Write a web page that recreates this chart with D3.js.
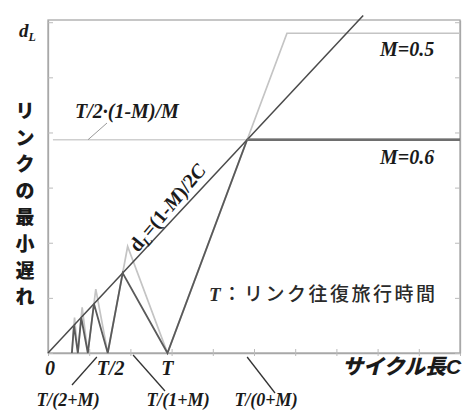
<!DOCTYPE html>
<html>
<head>
<meta charset="utf-8">
<script src="https://cdn.jsdelivr.net/npm/d3@7"></script>
<style>
  html, body { margin: 0; padding: 0; background: #fff; }
  svg { display: block; }
  .serif { font-family: "Liberation Serif", "DejaVu Serif", serif; font-weight: bold; font-style: italic; }
  .jp { font-family: "Noto Sans CJK JP", sans-serif; }
</style>
</head>
<body>
<svg id="chart" width="466" height="410"></svg>
<script>
// Round-trip time T on the cycle-length axis (axis runs 0..10)
const T = 2.9;

// Axis tick positions (cycle length C, minimum delay d_L)
const xTickValues = [0, 1, 2, 3, 4, 5, 6, 7, 8, 9, 10];
const yTickValues = [0, 0.25, 0.5, 0.75, 1.0, 1.25, 1.5];

// M = 0.6 : vertices of the minimum-delay curve (dark)
const cycleM06 = [0.58, 0.630, 0.725, 0.806, 0.967, 1.115, 1.45, 1.8125, 2.9, 4.833, 10];
const delayM06 = [0,    0.126, 0,     0.161, 0,     0.223, 0,    0.3625, 0,   0.967, 0.967];

// M = 0.5 : vertices of the minimum-delay curve (light)
const cycleM05 = [0.58, 0.644, 0.725, 0.829, 0.967, 1.16, 1.45, 1.933, 2.9, 5.8,  10];
const delayM05 = [0,    0.161, 0,     0.207, 0,     0.29, 0,    0.483, 0,   1.45, 1.45];

// Envelope d_L = (1-M)/2·C for M = 0.6
const envelopeC = [0, 7.65];
const envelopeD = [0, 1.53];

// Reference level T/2·(1-M)/M (M = 0.6) left of the break point
const levelC = [0.12, 4.833];
const levelD = [0.967, 0.967];

const svg = d3.select("#chart");
const x = d3.scaleLinear().domain([0, 10]).range([48, 460]);
const y = d3.scaleLinear().domain([0, 1.51]).range([353, 20]);

const frameColor = "#a8a8a8";

// plot frame
svg.append("rect").attr("x", x(0)).attr("y", y(1.51))
  .attr("width", x(10) - x(0)).attr("height", y(0) - y(1.51))
  .attr("fill", "none").attr("stroke", frameColor).attr("stroke-width", 1.3);

// axes with inward ticks, no numeric labels
const axisStyle = g => {
  g.selectAll("path").attr("stroke", frameColor).attr("stroke-width", 1.3);
  g.selectAll(".tick line").attr("stroke", "#bbb").attr("stroke-width", 1);
  g.selectAll(".tick text").remove();
};
svg.append("g").attr("transform", `translate(0,${y(0)})`)
  .call(d3.axisBottom(x).tickValues(xTickValues).tickSizeInner(-4).tickSizeOuter(0).tickFormat(""))
  .call(axisStyle)
  .call(g => g.selectAll(".tick").append("line").attr("y2", 3).attr("stroke", "#bbb"));
svg.append("g").attr("transform", `translate(${x(0)},0)`)
  .call(d3.axisLeft(y).tickValues(yTickValues).tickSizeInner(-5).tickSizeOuter(0).tickFormat(""))
  .call(axisStyle);
svg.append("g").attr("transform", `translate(${x(10)},0)`)
  .call(d3.axisRight(y).tickValues(yTickValues).tickSizeInner(-5).tickSizeOuter(0).tickFormat(""))
  .call(axisStyle);

const line = d3.line().x(d => x(d[0])).y(d => y(d[1]));
const pairs = (cs, ds) => cs.map((c, i) => [c, ds[i]]);

// reference level (light)
svg.append("path").datum(pairs(levelC, levelD)).attr("d", line)
  .attr("fill", "none").attr("stroke", "#cfcfcf").attr("stroke-width", 1.6);

// M = 0.5 curve
svg.append("path").datum(pairs(cycleM05, delayM05)).attr("d", line)
  .attr("fill", "none").attr("stroke", "#c4c4c4").attr("stroke-width", 1.7)
  .attr("stroke-linejoin", "miter");

// envelope
svg.append("path").datum(pairs(envelopeC, envelopeD)).attr("d", line)
  .attr("fill", "none").attr("stroke", "#4a4a4a").attr("stroke-width", 1.5);

// M = 0.6 curve
svg.append("path").datum(pairs(cycleM06, delayM06)).attr("d", line)
  .attr("fill", "none").attr("stroke", "#5a5a5a").attr("stroke-width", 1.8)
  .attr("stroke-linejoin", "miter");
// thicker plateau for M = 0.6
svg.append("path").datum(pairs(cycleM06.slice(-2), delayM06.slice(-2))).attr("d", line)
  .attr("fill", "none").attr("stroke", "#6e6e6e").attr("stroke-width", 2.6);

// ---- text ----
const txt = (px, py, cls, size) => svg.append("text").attr("x", px).attr("y", py)
  .attr("class", cls).attr("font-size", size).attr("fill", "#1a1a1a");

// y-axis symbol d_L
const dl = txt(19, 37, "serif", 19);
dl.append("tspan").text("d");
dl.append("tspan").attr("font-size", 12).attr("dy", 4).text("L");

// vertical axis title
const yTitle = svg.append("text").attr("class", "jp").attr("font-weight", 900)
  .attr("font-size", 19).attr("fill", "#1a1a1a").attr("text-anchor", "middle");
Array.from("リンクの最小遅れ").forEach((ch, i) => {
  yTitle.append("tspan").attr("x", 25).attr("y", 118 + i * 26.6).text(ch);
});

// x-axis title
const xTitle = svg.append("text").attr("x", 342).attr("y", 374).attr("font-size", 21).attr("fill", "#1a1a1a");
xTitle.append("tspan").attr("class", "jp").attr("font-weight", 900).attr("font-style", "italic").text("サイクル長");
xTitle.append("tspan").attr("font-family", "Liberation Sans, sans-serif").attr("font-weight", "bold")
  .attr("font-style", "italic").text("C");

// x labels at 0, T/2, T
txt(x(0) + 2, 375, "serif", 20).attr("text-anchor", "middle").attr("font-style", "normal").text("0");
txt(x(T / 2) + 3, 375, "serif", 20).attr("text-anchor", "middle").text("T/2");
txt(x(T), 375, "serif", 20).attr("text-anchor", "middle").text("T");

// leader lines and labels for the break points
const leader = (x1, y1, x2, y2) => svg.append("line").attr("x1", x1).attr("y1", y1)
  .attr("x2", x2).attr("y2", y2).attr("stroke", "#333").attr("stroke-width", 1.3);
leader(x(T / 2.55) + 2, 357, 72, 385);
leader(x(T / 1.55) + 8, 355, 165, 391);
leader(x(T / 0.6), 357, 275, 393);
txt(68, 406, "serif", 18).attr("text-anchor", "middle").text("T/(2+M)");
txt(178, 406, "serif", 18).attr("text-anchor", "middle").text("T/(1+M)");
txt(266, 406, "serif", 18).attr("text-anchor", "middle").text("T/(0+M)");

// level label
leader(88, y(0.967), 107, 123).attr("stroke", "#999").attr("stroke-width", 1);
txt(75, 118, "serif", 20).text("T/2·(1-M)/M");

// series labels
txt(380, 56, "serif", 20).text("M=0.5");
txt(380, 164, "serif", 20).text("M=0.6");

// envelope formula along the line
const fx = 138, fy = 253;
const f = svg.append("text").attr("class", "serif").attr("font-size", 20).attr("fill", "#1a1a1a")
  .attr("transform", `translate(${fx},${fy}) rotate(-50)`);
f.append("tspan").attr("font-style", "normal").text("d");
f.append("tspan").attr("font-size", 13).attr("dy", 4).text("L");
f.append("tspan").attr("dy", -4).attr("font-style", "normal").text("=(1-");
f.append("tspan").text("M");
f.append("tspan").attr("font-style", "normal").text(")/2");
f.append("tspan").text("C");

// legend for T
const tl = svg.append("text").attr("x", 209).attr("y", 301).attr("font-size", 19).attr("fill", "#2a2a2a");
tl.append("tspan").attr("class", "serif").text("T");
tl.append("tspan").attr("class", "jp").attr("font-weight", 500).attr("letter-spacing", 2.5).attr("dx", 2)
  .text("：リンク往復旅行時間");
</script>
</body>
</html>
